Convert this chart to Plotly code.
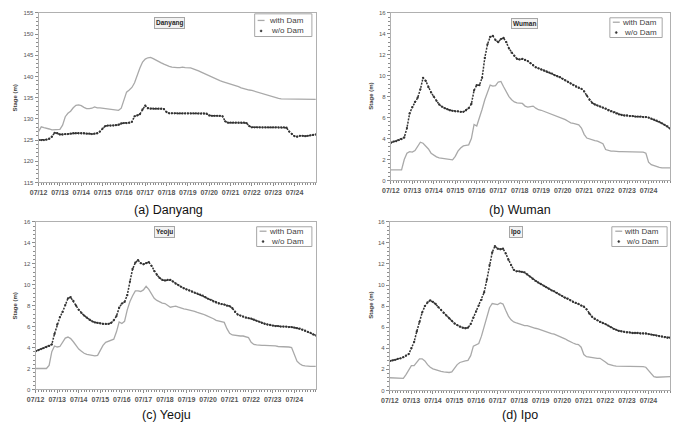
import plotly.graph_objects as go

W, H = 674, 422
FONT = "Liberation Sans, Arial, sans-serif"

DATE_LABELS = ["07/12", "07/13", "07/14", "07/15", "07/16", "07/17", "07/18",
               "07/19", "07/20", "07/21", "07/22", "07/23", "07/24"]
HOURS = list(range(0, 313, 3))          # 3-hourly samples, 07/12 00h .. 07/25 00h
DAYS = [h / 24 for h in HOURS]

# ---------------- (a) Danyang ----------------
A_WITH = [127.0, 128.1, 127.9, 127.8, 127.6, 127.4, 127.4, 127.4,
          127.5, 128.5, 130.5, 131.3, 131.8, 132.6, 133.2, 133.3,
          133.1, 132.7, 132.4, 132.4, 132.5, 132.8, 132.6, 132.6,
          132.5, 132.4, 132.3, 132.2, 132.2, 132.1, 132.0, 132.5,
          134.5, 136.3, 136.8, 137.4, 138.5, 140.4, 142.0, 143.4,
          144.1, 144.4, 144.5, 144.2, 143.8, 143.5, 143.2, 142.9,
          142.6, 142.4, 142.2, 142.1, 142.1, 142.1, 142.2, 142.1,
          142.1, 142.0, 141.8, 141.6, 141.3, 141.0, 140.7, 140.4,
          140.1, 139.8, 139.5, 139.2, 139.0, 138.8, 138.6, 138.4,
          138.3, 138.1, 137.9, 137.6, 137.3, 137.1, 136.9, 136.8,
          136.7, 136.5, 136.3, 136.2, 136.0, 135.8, 135.6, 135.4,
          135.2, 135.0, 134.8, 134.7, 134.7, 134.7, 134.7, 134.7,
          134.7, 134.7, 134.6, 134.6, 134.6, 134.6, 134.6, 134.6,
          134.6]
A_WO = [125.0, 125.0, 125.0, 125.1, 125.3, 125.8, 126.7, 126.6,
        126.3, 126.3, 126.4, 126.4, 126.5, 126.6, 126.6, 126.6,
        126.6, 126.6, 126.5, 126.5, 126.4, 126.5, 126.6, 127.0,
        127.7, 128.3, 128.4, 128.4, 128.4, 128.5, 128.6, 128.9,
        129.0, 129.0, 129.1, 129.3, 130.6, 130.8, 131.1, 132.2,
        133.1, 132.5, 132.4, 132.4, 132.4, 132.4, 132.4, 132.3,
        131.6, 131.3, 131.3, 131.3, 131.3, 131.3, 131.3, 131.3,
        131.3, 131.3, 131.3, 131.3, 131.3, 131.3, 131.3, 131.2,
        130.8, 130.7, 130.7, 130.7, 130.7, 130.6, 129.4, 129.1,
        129.1, 129.1, 129.1, 129.1, 129.1, 129.1, 129.0, 128.3,
        128.0, 128.0, 128.0, 128.0, 128.0, 128.0, 128.0, 128.0,
        128.0, 128.0, 128.0, 128.0, 128.0, 127.9, 127.0, 126.4,
        125.9, 125.8, 126.0, 126.0, 125.9, 126.0, 126.1, 126.2,
        126.3]

# ---------------- (b) Wuman ----------------
B_WITH = [1.0, 1.0, 1.0, 1.0, 1.0, 2.0, 2.6, 2.75,
          2.7, 2.85, 3.3, 3.65, 3.55, 3.3, 3.0, 2.6,
          2.4, 2.25, 2.15, 2.1, 2.05, 2.0, 2.0, 1.97,
          2.3, 2.8, 3.1, 3.3, 3.35, 3.4, 4.0, 5.35,
          5.2, 5.9, 6.8, 7.7, 8.5, 9.1, 9.0, 9.05,
          9.4, 9.45, 8.95, 8.4, 8.0, 7.7, 7.5, 7.4,
          7.4, 7.35, 7.1, 7.0, 7.05, 7.1, 6.9, 6.75,
          6.7, 6.6, 6.5, 6.4, 6.3, 6.2, 6.1, 6.05,
          5.95, 5.8, 5.65, 5.5, 5.45, 5.4, 5.3, 5.0,
          4.4, 4.05, 3.95, 3.85, 3.8, 3.75, 3.65, 3.5,
          2.95, 2.85, 2.8, 2.8, 2.75, 2.75, 2.75, 2.75,
          2.75, 2.75, 2.75, 2.75, 2.72, 2.7, 2.7, 2.6,
          1.75, 1.5, 1.4, 1.3, 1.25, 1.2, 1.2, 1.2,
          1.2]
B_WO = [3.6, 3.7, 3.75, 3.85, 3.95, 4.1, 5.0, 6.4,
        7.0, 7.5, 7.9, 8.7, 9.8, 9.5, 8.9, 8.4,
        8.0, 7.6, 7.25, 7.05, 6.9, 6.8, 6.7, 6.65,
        6.6, 6.6, 6.55, 6.55, 6.7, 6.9, 7.3, 8.6,
        9.1, 9.1, 9.8, 11.7, 13.0, 13.7, 13.8, 13.4,
        13.2, 13.5, 13.6, 13.2, 12.6, 12.2, 11.9, 11.6,
        11.55, 11.6, 11.5, 11.4, 11.2, 11.0, 10.8, 10.7,
        10.6, 10.5, 10.4, 10.3, 10.2, 10.05, 9.95, 9.85,
        9.7, 9.55, 9.4, 9.25, 9.1, 8.95, 8.85, 8.75,
        8.5, 8.1, 7.7, 7.4, 7.25, 7.15, 7.05, 6.95,
        6.85, 6.7, 6.6, 6.5, 6.4, 6.3, 6.25, 6.2,
        6.2, 6.15, 6.15, 6.1, 6.1, 6.1, 6.05, 6.05,
        6.0, 5.9, 5.8, 5.7, 5.6, 5.45, 5.3, 5.15,
        4.95]

# ---------------- (c) Yeoju ----------------
C_WITH = [2.0, 2.0, 2.0, 2.0, 2.0, 2.3, 3.6, 4.15,
          4.05, 4.1, 4.55, 4.9, 5.0, 4.85, 4.55, 4.2,
          3.85, 3.65, 3.45, 3.35, 3.3, 3.25, 3.2, 3.25,
          3.7, 4.2, 4.5, 4.6, 4.65, 4.8, 5.5, 6.45,
          6.3, 6.5, 7.6, 8.4, 8.95, 9.4, 9.4, 9.35,
          9.5, 9.85, 9.55, 9.1, 8.7, 8.5, 8.35, 8.25,
          8.2, 8.0, 7.85, 7.9, 7.95, 7.85, 7.75, 7.7,
          7.65, 7.6, 7.5, 7.45, 7.35, 7.3, 7.2, 7.1,
          7.0, 6.85, 6.75, 6.6, 6.55, 6.5, 6.4, 5.8,
          5.35, 5.2, 5.15, 5.15, 5.1, 5.1, 5.05, 4.95,
          4.5, 4.3, 4.25, 4.2, 4.2, 4.2, 4.2, 4.15,
          4.15, 4.15, 4.1, 4.1, 4.1, 4.1, 4.05, 4.0,
          3.3, 2.7, 2.45, 2.3, 2.25, 2.2, 2.2, 2.2,
          2.2]
C_WO = [3.65, 3.75, 3.85, 3.95, 4.05, 4.15, 4.3, 5.3,
        6.2, 6.9, 7.4, 8.05, 8.7, 8.8, 8.45, 8.0,
        7.6, 7.3, 7.05, 6.85, 6.65, 6.5, 6.4, 6.35,
        6.3, 6.25, 6.25, 6.25, 6.35, 6.6, 7.0, 7.8,
        8.2, 8.35, 9.0, 10.3, 11.5, 12.1, 12.35, 12.05,
        11.95, 12.05, 12.15, 11.8, 11.3, 10.95, 10.65, 10.45,
        10.4, 10.45, 10.45, 10.3, 10.1, 9.95, 9.8, 9.65,
        9.55, 9.45, 9.35, 9.25, 9.15, 9.05, 8.95, 8.8,
        8.65, 8.55, 8.4, 8.3, 8.2, 8.15, 8.1, 8.0,
        7.95, 7.75, 7.4, 7.15, 7.05, 6.95, 6.85, 6.8,
        6.75, 6.65, 6.55, 6.45, 6.35, 6.25, 6.2, 6.15,
        6.1, 6.05, 6.05, 6.0, 6.0, 6.0, 5.95, 5.95,
        5.9, 5.85, 5.8, 5.7, 5.6, 5.5, 5.4, 5.25,
        5.15]

# ---------------- (d) Ipo ----------------
D_WITH = [1.2, 1.2, 1.2, 1.2, 1.2, 1.15, 1.5, 2.0,
          2.35, 2.35, 2.7, 3.0, 3.0, 2.8, 2.45, 2.2,
          2.05, 1.95, 1.85, 1.8, 1.75, 1.7, 1.7, 1.75,
          2.1, 2.45, 2.65, 2.75, 2.8, 2.85, 3.3, 4.2,
          4.3, 4.45, 5.15, 6.0, 7.0, 7.85, 8.25, 8.2,
          8.15, 8.3, 8.2, 7.6, 7.05, 6.7, 6.5, 6.4,
          6.3, 6.2, 6.15, 6.15, 6.05, 5.95, 5.9, 5.85,
          5.75, 5.7, 5.6, 5.5, 5.4, 5.35, 5.25, 5.1,
          5.0, 4.9, 4.75, 4.6, 4.5, 4.4, 4.35, 4.1,
          3.4, 3.2, 3.15, 3.1, 3.1, 3.05, 3.05, 2.9,
          2.7, 2.5, 2.4, 2.35, 2.3, 2.3, 2.3, 2.3,
          2.3, 2.3, 2.3, 2.3, 2.3, 2.3, 2.25, 2.2,
          1.9, 1.55, 1.3, 1.25, 1.25, 1.25, 1.3, 1.3,
          1.3]
D_WO = [2.8, 2.85, 2.9, 3.0, 3.05, 3.15, 3.3, 3.45,
        4.0, 4.6, 5.6, 6.5, 7.4, 8.0, 8.35, 8.55,
        8.4, 8.2, 7.9, 7.65, 7.35, 7.1, 6.85, 6.6,
        6.35, 6.2, 6.05, 5.95, 5.9, 5.95, 6.3, 6.9,
        7.5, 8.05, 8.6, 9.3, 10.5, 11.9, 13.1, 13.7,
        13.45, 13.4, 13.45, 13.0, 12.4, 11.9, 11.45, 11.3,
        11.3, 11.25, 11.2, 11.0, 10.8, 10.6, 10.4, 10.25,
        10.1, 9.95, 9.8, 9.65, 9.5, 9.4, 9.25, 9.1,
        8.95, 8.8, 8.7, 8.55, 8.4, 8.3, 8.2, 8.05,
        7.95, 7.7, 7.3, 7.0, 6.8, 6.65, 6.5, 6.4,
        6.3, 6.15, 6.0, 5.85, 5.75, 5.65, 5.6, 5.55,
        5.5, 5.5, 5.45, 5.45, 5.45, 5.4, 5.4, 5.4,
        5.35, 5.3, 5.25, 5.2, 5.15, 5.1, 5.05, 5.0,
        5.0]

STATIONS = ["Danyang", "Wuman", "Yeoju", "Ipo"]
CAPTIONS = ["(a) Danyang", "(b) Wuman", "(c) Yeoju", "(d) Ipo"]
SERIES_NAMES = ["with Dam", "w/o Dam"]
Y_RANGES = [[115, 155], [0, 16], [0, 16], [0, 16]]
Y_DTICK = [5, 2, 2, 2]
WITH_DATA = [A_WITH, B_WITH, C_WITH, D_WITH]
WO_DATA = [A_WO, B_WO, C_WO, D_WO]

# layout in pixels
PLOT_BOX = [(30, 311, 10, 182), (387, 670, 10, 180), (27, 311, 222, 392), (386, 670, 222, 393)]
TITLE_POS = [(163, 20.5), (522, 20.5), (158, 232.5), (514, 232.5)]
CAPTION_POS = [(162, 210), (518, 210), (160, 418), (518, 418)]
YTITLE_POS = [(6, 96), (367, 95), (6, 307), (367, 307)]
# legend box: (x0, y0, x1, y1), symbol x, text right, line1 y, line2 y
LEGEND_POS = [((249, 11, 307, 34), 255.5, 301, 17.7, 28.3),
              ((609, 15, 662, 35), 615.5, 659, 19.5, 30),
              ((251, 227, 307, 247), 257.5, 301, 231.5, 242),
              ((611, 227, 667, 247), 618, 661, 231.5, 242)]

WITH_COLOR = "#a9a9a9"
WO_COLOR = "#333333"
AXIS_COLOR = "#b0b0b0"
TICK_COLOR = "#8c8c8c"
TEXT_COLOR = "#555555"


def px(x):
    return x / W


def py(y):
    return 1 - y / H


fig = go.Figure()
layout = dict(
    width=W, height=H, margin=dict(l=0, r=0, t=0, b=0),
    paper_bgcolor="white", plot_bgcolor="white", showlegend=False,
    font=dict(family=FONT, color=TEXT_COLOR),
)
annotations = []
shapes = []

for i in range(4):
    n = "" if i == 0 else str(i + 1)
    xa, ya = "x" + n, "y" + n
    x0, x1, y0, y1 = PLOT_BOX[i]
    fig.add_trace(go.Scatter(x=DAYS, y=WITH_DATA[i], mode="lines", name=SERIES_NAMES[0],
                             line=dict(color=WITH_COLOR, width=1.3),
                             xaxis=xa, yaxis=ya, hoverinfo="skip"))
    fig.add_trace(go.Scatter(x=DAYS, y=WO_DATA[i], mode="lines+markers", name=SERIES_NAMES[1],
                             line=dict(color=WO_COLOR, width=1.5, dash="2px,1.2px"),
                             marker=dict(size=2.3, color=WO_COLOR),
                             xaxis=xa, yaxis=ya, hoverinfo="skip"))
    layout["xaxis" + n] = dict(
        domain=[px(x0), px(x1)], anchor=ya, range=[0, 13],
        tickmode="array", tickvals=list(range(len(DATE_LABELS))), ticktext=DATE_LABELS,
        ticks="outside", ticklen=3, tickcolor=TICK_COLOR, tickwidth=1,
        tickfont=dict(size=7, color=TEXT_COLOR, family=FONT, weight="bold"),
        showline=True, linecolor=AXIS_COLOR, linewidth=1, mirror=True,
        showgrid=False, zeroline=False,
        minor=dict(tick0=0, dtick=0.125, ticks="outside", ticklen=2,
                   tickcolor=TICK_COLOR, showgrid=False),
    )
    dt = Y_DTICK[i]
    layout["yaxis" + n] = dict(
        domain=[py(y1), py(y0)], anchor=xa, range=Y_RANGES[i],
        tick0=Y_RANGES[i][0], dtick=dt,
        ticks="outside", ticklen=3, tickcolor=TICK_COLOR, tickwidth=1,
        tickfont=dict(size=6, color=TEXT_COLOR, family=FONT),
        showline=True, linecolor=AXIS_COLOR, linewidth=1, mirror=True,
        showgrid=False, zeroline=False,
        minor=dict(tick0=Y_RANGES[i][0], dtick=dt / 5, ticks="outside", ticklen=2,
                   tickcolor=TICK_COLOR, showgrid=False),
    )
    # station title box
    tx, ty = TITLE_POS[i]
    annotations.append(dict(
        text="<b>%s</b>" % STATIONS[i], x=px(tx), y=py(ty), xref="paper", yref="paper",
        xanchor="center", yanchor="middle", showarrow=False,
        font=dict(size=6.5, color="#262626", family=FONT),
        bordercolor="#a6a6a6", borderwidth=1, borderpad=1, bgcolor="#f2f2f2"))
    # caption
    cx, cy = CAPTION_POS[i]
    annotations.append(dict(
        text=CAPTIONS[i], x=px(cx), y=py(cy), xref="paper", yref="paper",
        xanchor="center", yanchor="middle", showarrow=False,
        font=dict(size=12.5, color="#111111", family=FONT)))
    # y-axis title
    yx, yy = YTITLE_POS[i]
    annotations.append(dict(
        text="<b>Stage (m)</b>", x=px(yx), y=py(yy), xref="paper", yref="paper",
        xanchor="center", yanchor="middle", showarrow=False, textangle=-90,
        font=dict(size=6, color="#404040", family=FONT)))
    # legend
    (bx0, by0, bx1, by1), sx, tr, l1, l2 = LEGEND_POS[i]
    shapes.append(dict(type="rect", xref="paper", yref="paper",
                       x0=px(bx0), x1=px(bx1), y0=py(by1), y1=py(by0),
                       line=dict(color="#a6a6a6", width=1), fillcolor="white", layer="above"))
    shapes.append(dict(type="line", xref="paper", yref="paper",
                       x0=px(sx - 3.5), x1=px(sx + 3.5), y0=py(l1), y1=py(l1),
                       line=dict(color=WITH_COLOR, width=1.3), layer="above"))
    shapes.append(dict(type="circle", xref="paper", yref="paper",
                       x0=px(sx - 1), x1=px(sx + 1), y0=py(l2 + 1), y1=py(l2 - 1),
                       line=dict(color=WO_COLOR, width=0.5), fillcolor=WO_COLOR, layer="above"))
    for name, ly in zip(SERIES_NAMES, (l1, l2)):
        annotations.append(dict(
            text=name, x=px(tr), y=py(ly), xref="paper", yref="paper",
            xanchor="right", yanchor="middle", showarrow=False,
            font=dict(size=8, color="#404040", family=FONT)))

layout["annotations"] = annotations
layout["shapes"] = shapes
fig.update_layout(**layout)
fig.write_html("out.html")
